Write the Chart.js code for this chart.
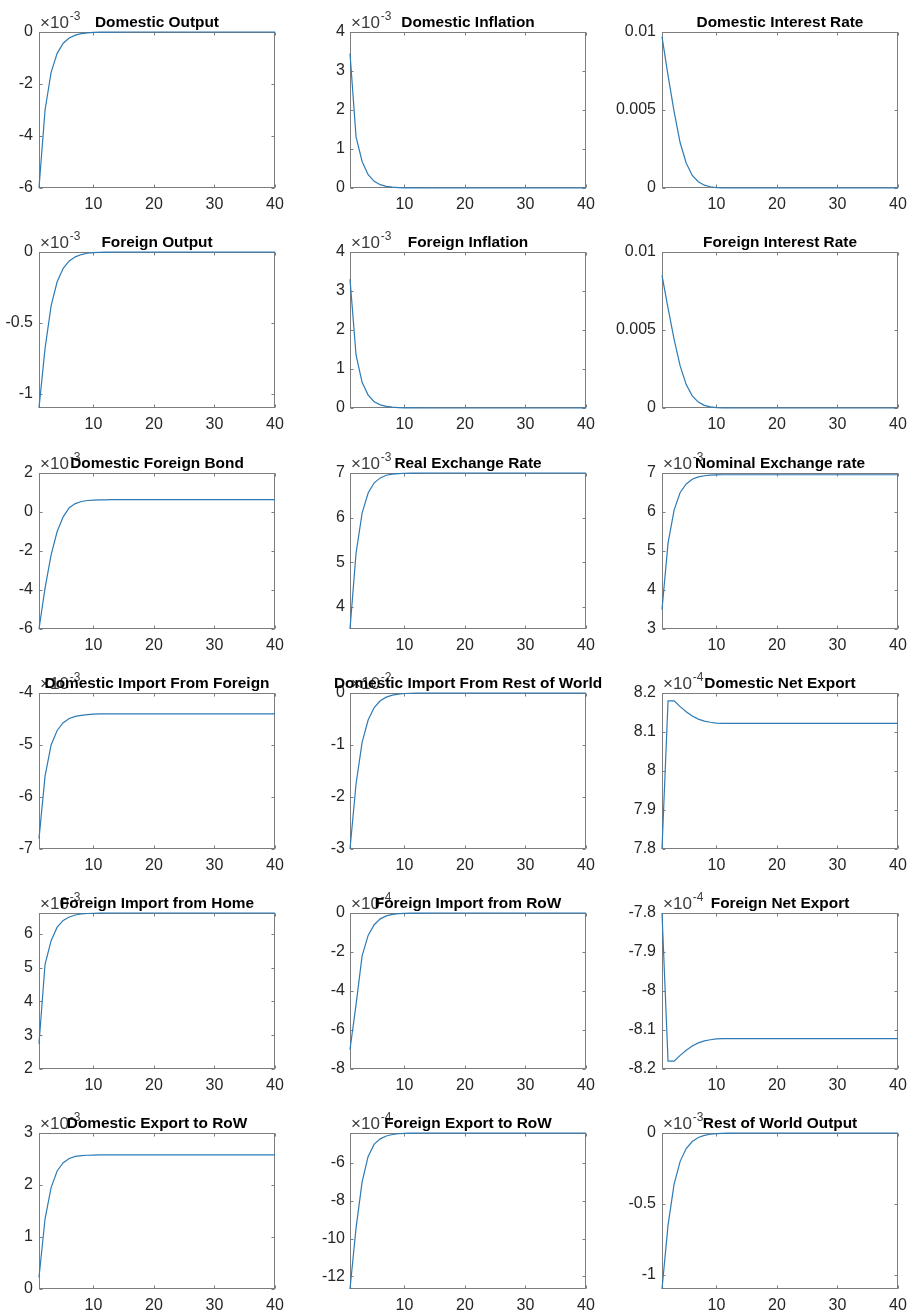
<!DOCTYPE html>
<html>
<head>
<meta charset="utf-8">
<title>Impulse responses</title>
<script src="https://cdn.jsdelivr.net/npm/chart.js@4.4.1/dist/chart.umd.min.js"></script>
<style>
  html, body { margin: 0; padding: 0; background: #ffffff; }
  body { width: 908px; height: 1312px; position: relative; overflow: hidden; }
  canvas { position: absolute; }
</style>
</head>
<body>
<div id="figure"></div>
<script>
// periods on the horizontal axis
const periods = [1, 2, 3, 4, 5, 6, 7, 8, 9, 10, 11, 12, 13, 14, 15, 16, 17, 18, 19, 20,
  21, 22, 23, 24, 25, 26, 27, 28, 29, 30, 31, 32, 33, 34, 35, 36, 37, 38, 39, 40];
const xTicks = [10, 20, 30, 40];

// responses, in the units shown on each y axis (i.e. already divided by the x10^n factor)
const domesticOutput = [-6, -3.0, -1.55, -0.82, -0.43, -0.23, -0.12, -0.06, -0.03, -0.015,
  -0.008, -0.004, -0.002, -0.001, 0, 0, 0, 0, 0, 0, 0, 0, 0, 0, 0, 0, 0, 0, 0, 0,
  0, 0, 0, 0, 0, 0, 0, 0, 0, 0];
const domesticInflation = [3.45, 1.31, 0.68, 0.34, 0.17, 0.085, 0.042, 0.021, 0.01, 0.005,
  0.002, 0.001, 0, 0, 0, 0, 0, 0, 0, 0, 0, 0, 0, 0, 0, 0, 0, 0, 0, 0,
  0, 0, 0, 0, 0, 0, 0, 0, 0, 0];
const domesticInterest = [0.0097, 0.0072, 0.0049, 0.0029, 0.0016, 0.0008, 0.0004, 0.00018, 0.00008, 0.00003,
  0.00001, 0, 0, 0, 0, 0, 0, 0, 0, 0, 0, 0, 0, 0, 0, 0, 0, 0, 0, 0,
  0, 0, 0, 0, 0, 0, 0, 0, 0, 0];
const foreignOutput = [-1.1, -0.68, -0.38, -0.21, -0.115, -0.063, -0.034, -0.018, -0.009, -0.0045,
  -0.002, -0.001, 0, 0, 0, 0, 0, 0, 0, 0, 0, 0, 0, 0, 0, 0, 0, 0, 0, 0,
  0, 0, 0, 0, 0, 0, 0, 0, 0, 0];
const foreignInflation = [3.3, 1.36, 0.66, 0.33, 0.16, 0.08, 0.04, 0.02, 0.01, 0.005,
  0.002, 0.001, 0, 0, 0, 0, 0, 0, 0, 0, 0, 0, 0, 0, 0, 0, 0, 0, 0, 0,
  0, 0, 0, 0, 0, 0, 0, 0, 0, 0];
const foreignInterest = [0.0085, 0.0064, 0.0044, 0.0027, 0.0015, 0.00078, 0.00038, 0.00017, 0.00007, 0.00003,
  0.00001, 0, 0, 0, 0, 0, 0, 0, 0, 0, 0, 0, 0, 0, 0, 0, 0, 0, 0, 0,
  0, 0, 0, 0, 0, 0, 0, 0, 0, 0];
const domesticForeignBond = [-6, -3.9, -2.2, -1.0, -0.25, 0.22, 0.43, 0.54, 0.59, 0.61,
  0.62, 0.625, 0.63, 0.63, 0.63, 0.63, 0.63, 0.63, 0.63, 0.63, 0.63, 0.63, 0.63, 0.63, 0.63, 0.63, 0.63, 0.63, 0.63, 0.63,
  0.63, 0.63, 0.63, 0.63, 0.63, 0.63, 0.63, 0.63, 0.63, 0.63];
const realExchange = [3.5, 5.2, 6.1, 6.55, 6.78, 6.89, 6.95, 6.975, 6.988, 6.994,
  6.997, 6.999, 7, 7, 7, 7, 7, 7, 7, 7, 7, 7, 7, 7, 7, 7, 7, 7, 7, 7,
  7, 7, 7, 7, 7, 7, 7, 7, 7, 7];
const nominalExchange = [3.5, 5.2, 6.05, 6.5, 6.72, 6.84, 6.9, 6.93, 6.945, 6.95,
  6.955, 6.955, 6.955, 6.955, 6.955, 6.955, 6.955, 6.955, 6.955, 6.955, 6.955, 6.955, 6.955, 6.955, 6.955, 6.955, 6.955, 6.955, 6.955, 6.955,
  6.955, 6.955, 6.955, 6.955, 6.955, 6.955, 6.955, 6.955, 6.955, 6.955];
const domImportForeign = [-6.8, -5.6, -5.0, -4.72, -4.57, -4.49, -4.45, -4.43, -4.415, -4.407,
  -4.403, -4.4, -4.4, -4.4, -4.4, -4.4, -4.4, -4.4, -4.4, -4.4, -4.4, -4.4, -4.4, -4.4, -4.4, -4.4, -4.4, -4.4, -4.4, -4.4,
  -4.4, -4.4, -4.4, -4.4, -4.4, -4.4, -4.4, -4.4, -4.4, -4.4];
const domImportRoW = [-3.0, -1.75, -0.95, -0.52, -0.28, -0.15, -0.08, -0.04, -0.02, -0.01,
  -0.005, -0.002, 0, 0, 0, 0, 0, 0, 0, 0, 0, 0, 0, 0, 0, 0, 0, 0, 0, 0,
  0, 0, 0, 0, 0, 0, 0, 0, 0, 0];
const domNetExport = [7.8, 8.18, 8.18, 8.165, 8.152, 8.141, 8.133, 8.128, 8.125, 8.123,
  8.122, 8.122, 8.122, 8.122, 8.122, 8.122, 8.122, 8.122, 8.122, 8.122, 8.122, 8.122, 8.122, 8.122, 8.122, 8.122, 8.122, 8.122, 8.122, 8.122,
  8.122, 8.122, 8.122, 8.122, 8.122, 8.122, 8.122, 8.122, 8.122, 8.122];
const forImportHome = [2.75, 5.1, 5.8, 6.2, 6.4, 6.5, 6.56, 6.59, 6.605, 6.613,
  6.617, 6.62, 6.62, 6.62, 6.62, 6.62, 6.62, 6.62, 6.62, 6.62, 6.62, 6.62, 6.62, 6.62, 6.62, 6.62, 6.62, 6.62, 6.62, 6.62,
  6.62, 6.62, 6.62, 6.62, 6.62, 6.62, 6.62, 6.62, 6.62, 6.62];
const forImportRoW = [-7.0, -4.7, -2.2, -1.15, -0.6, -0.3, -0.15, -0.075, -0.037, -0.018,
  -0.009, -0.004, -0.002, 0, 0, 0, 0, 0, 0, 0, 0, 0, 0, 0, 0, 0, 0, 0, 0, 0,
  0, 0, 0, 0, 0, 0, 0, 0, 0, 0];
const forNetExport = [-7.8, -8.18, -8.18, -8.165, -8.152, -8.141, -8.133, -8.128, -8.125, -8.123,
  -8.122, -8.122, -8.122, -8.122, -8.122, -8.122, -8.122, -8.122, -8.122, -8.122, -8.122, -8.122, -8.122, -8.122, -8.122, -8.122, -8.122, -8.122, -8.122, -8.122,
  -8.122, -8.122, -8.122, -8.122, -8.122, -8.122, -8.122, -8.122, -8.122, -8.122];
const domExportRoW = [0.22, 1.35, 1.95, 2.27, 2.43, 2.51, 2.55, 2.565, 2.572, 2.576,
  2.578, 2.58, 2.58, 2.58, 2.58, 2.58, 2.58, 2.58, 2.58, 2.58, 2.58, 2.58, 2.58, 2.58, 2.58, 2.58, 2.58, 2.58, 2.58, 2.58,
  2.58, 2.58, 2.58, 2.58, 2.58, 2.58, 2.58, 2.58, 2.58, 2.58];
const forExportRoW = [-12.67, -9.45, -7.0, -5.65, -5.0, -4.72, -4.57, -4.49, -4.45, -4.43,
  -4.42, -4.415, -4.41, -4.41, -4.41, -4.41, -4.41, -4.41, -4.41, -4.41, -4.41, -4.41, -4.41, -4.41, -4.41, -4.41, -4.41, -4.41, -4.41, -4.41,
  -4.41, -4.41, -4.41, -4.41, -4.41, -4.41, -4.41, -4.41, -4.41, -4.41];
const rowOutput = [-1.1, -0.65, -0.36, -0.2, -0.11, -0.06, -0.032, -0.017, -0.009, -0.0045,
  -0.002, -0.001, 0, 0, 0, 0, 0, 0, 0, 0, 0, 0, 0, 0, 0, 0, 0, 0, 0, 0,
  0, 0, 0, 0, 0, 0, 0, 0, 0, 0];

const titles = [
  "Domestic Output", "Domestic Inflation", "Domestic Interest Rate",
  "Foreign Output", "Foreign Inflation", "Foreign Interest Rate",
  "Domestic Foreign Bond", "Real Exchange Rate", "Nominal Exchange rate",
  "Domestic Import From Foreign", "Domestic Import From Rest of World", "Domestic Net Export",
  "Foreign Import from Home", "Foreign Import from RoW", "Foreign Net Export",
  "Domestic Export to RoW", "Foreign Export to RoW", "Rest of World Output",
];
const series = [
  domesticOutput, domesticInflation, domesticInterest,
  foreignOutput, foreignInflation, foreignInterest,
  domesticForeignBond, realExchange, nominalExchange,
  domImportForeign, domImportRoW, domNetExport,
  forImportHome, forImportRoW, forNetExport,
  domExportRoW, forExportRoW, rowOutput,
];
const yMin = [-6, 0, 0, -1.1, 0, 0, -6, 3.5, 3, -7, -3, 7.8, 2, -8, -8.2, 0, -12.67, -1.1];
const yMax = [0, 4, 0.01, 0, 4, 0.01, 2, 7, 7, -4, 0, 8.2, 6.62, 0, -7.8, 3, -4.41, 0];
const yTicks = [
  [-6, -4, -2, 0], [0, 1, 2, 3, 4], [0, 0.005, 0.01],
  [-1, -0.5, 0], [0, 1, 2, 3, 4], [0, 0.005, 0.01],
  [-6, -4, -2, 0, 2], [4, 5, 6, 7], [3, 4, 5, 6, 7],
  [-7, -6, -5, -4], [-3, -2, -1, 0], [7.8, 7.9, 8, 8.1, 8.2],
  [2, 3, 4, 5, 6], [-8, -6, -4, -2, 0], [-8.2, -8.1, -8, -7.9, -7.8],
  [0, 1, 2, 3], [-12, -10, -8, -6], [-1, -0.5, 0],
];
// power of ten written above each y axis (null = none)
const exponents = [-3, -3, null, -3, -3, null, -3, -3, -3, -3, -2, -4, -3, -4, -4, -3, -4, -3];

// layout
const colLeft = [39, 350, 662];
const rowTop = [32, 252, 473, 693, 913, 1133];
const plotW = 236;
const plotH = 156;
const yAxisW = [39, 48, 56];
const yLabelPad = [6, 5, 6];
const padTop = 34;
const padRight = 20;
const xAxisH = 26;

const FONT = "'Liberation Sans', Arial, Helvetica, sans-serif";
const TEXT_COLOR = "#262626";
const AXIS_COLOR = "#7d7d7d";
const LINE_COLOR = "#2c7bb6";

function fmtTick(v) {
  return String(Number(Number(v).toFixed(5)));
}

const framePlugin = {
  id: "frame",
  beforeDatasetsDraw(chart) {
    const { ctx, chartArea: a, scales } = chart;
    const L = Math.round(a.left) + 0.5;
    const R = Math.round(a.right) - 0.5;
    const T = Math.round(a.top) + 0.5;
    const B = Math.round(a.bottom) - 0.5;
    ctx.save();
    ctx.strokeStyle = AXIS_COLOR;
    ctx.lineWidth = 1;
    ctx.strokeRect(L, T, R - L, B - T);
    ctx.beginPath();
    scales.x.ticks.forEach((t) => {
      const px = Math.round(scales.x.getPixelForValue(t.value)) + 0.5;
      ctx.moveTo(px, B); ctx.lineTo(px, B - 3);
      ctx.moveTo(px, T); ctx.lineTo(px, T + 3);
    });
    scales.y.ticks.forEach((t) => {
      const py = Math.round(scales.y.getPixelForValue(t.value)) + 0.5;
      ctx.moveTo(L, py); ctx.lineTo(L + 3, py);
      ctx.moveTo(R, py); ctx.lineTo(R - 3, py);
    });
    ctx.stroke();
    ctx.restore();
  },
  afterDraw(chart, args, opts) {
    const { ctx, chartArea: a } = chart;
    ctx.save();
    ctx.textBaseline = "alphabetic";
    if (opts.exponent !== null && opts.exponent !== undefined) {
      ctx.fillStyle = "#3a3a3a";
      ctx.font = `17px ${FONT}`;
      ctx.textAlign = "left";
      const base = "\u00d710";
      ctx.fillText(base, a.left + 1, a.top - 4);
      const w = ctx.measureText(base).width;
      ctx.font = `12px ${FONT}`;
      ctx.fillText(String(opts.exponent), a.left + 1 + w + 1, a.top - 12);
    }
    ctx.fillStyle = "#000000";
    ctx.font = `bold 15.4px ${FONT}`;
    ctx.textAlign = "center";
    ctx.fillText(opts.title, (a.left + a.right) / 2, a.top - 5);
    ctx.restore();
  },
};

function makePanel(i) {
  const col = i % 3;
  const row = Math.floor(i / 3);
  const canvas = document.createElement("canvas");
  const w = yAxisW[col] + plotW + padRight;
  const h = padTop + plotH + xAxisH;
  canvas.width = w;
  canvas.height = h;
  canvas.style.width = w + "px";
  canvas.style.height = h + "px";
  canvas.style.left = (colLeft[col] - yAxisW[col]) + "px";
  canvas.style.top = (rowTop[row] - padTop) + "px";
  document.getElementById("figure").appendChild(canvas);

  const points = periods.map((p, k) => ({ x: p, y: series[i][k] }));

  return new Chart(canvas.getContext("2d"), {
    type: "line",
    data: {
      datasets: [{
        data: points,
        borderColor: LINE_COLOR,
        borderWidth: 1.2,
        pointRadius: 0,
        tension: 0,
        fill: false,
        clip: 3,
      }],
    },
    options: {
      responsive: false,
      animation: false,
      devicePixelRatio: 1,
      layout: { padding: { top: padTop, right: padRight, left: 0, bottom: 0 } },
      plugins: {
        legend: { display: false },
        tooltip: { enabled: false },
        frame: { title: titles[i], exponent: exponents[i] },
      },
      scales: {
        x: {
          type: "linear",
          min: 1,
          max: 40,
          grid: { display: false, drawTicks: false },
          border: { display: false },
          ticks: { color: TEXT_COLOR, font: { family: FONT, size: 16 }, padding: 7, maxRotation: 0, callback: fmtTick },
          afterBuildTicks: (s) => { s.ticks = xTicks.map((v) => ({ value: v })); },
          afterFit: (s) => { s.height = xAxisH; },
        },
        y: {
          type: "linear",
          min: yMin[i],
          max: yMax[i],
          grid: { display: false, drawTicks: false },
          border: { display: false },
          ticks: { color: TEXT_COLOR, font: { family: FONT, size: 16 }, padding: yLabelPad[col], callback: fmtTick },
          afterBuildTicks: (s) => { s.ticks = yTicks[i].map((v) => ({ value: v })); },
          afterFit: (s) => { s.width = yAxisW[col]; },
        },
      },
    },
    plugins: [framePlugin],
  });
}

for (let i = 0; i < titles.length; i++) {
  makePanel(i);
}
</script>
</body>
</html>
